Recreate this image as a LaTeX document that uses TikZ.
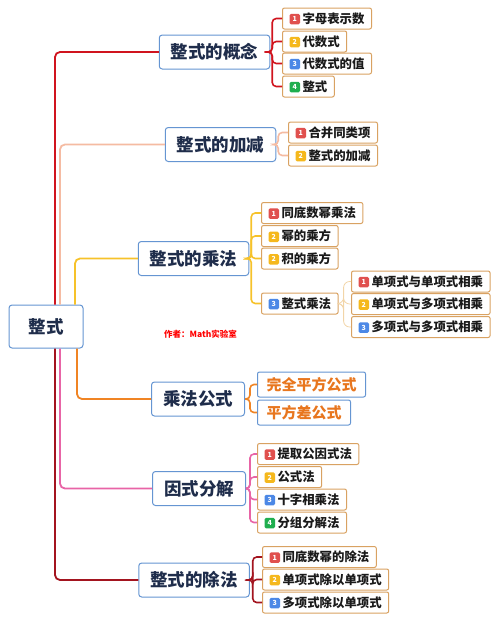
\documentclass[tikz,border=0pt]{standalone}
\usepackage{fontspec}
\setmainfont{Noto Sans CJK SC}
\usetikzlibrary{positioning}

\definecolor{boxline}{HTML}{6595D2}
\definecolor{topictext}{HTML}{1F2D4B}
\definecolor{leafline}{HTML}{D9A262}
\definecolor{leaftext}{HTML}{1A1A1A}
\definecolor{formtext}{HTML}{E8761E}
\definecolor{c1}{HTML}{D0141E}
\definecolor{c2}{HTML}{F5BBA2}
\definecolor{c3}{HTML}{F6C22A}
\definecolor{c4}{HTML}{F08424}
\definecolor{c5}{HTML}{E864A6}
\definecolor{c6}{HTML}{A3141F}
\definecolor{c7}{HTML}{F2D5A8}
\definecolor{b1}{HTML}{E0504E}
\definecolor{b2}{HTML}{F5B81C}
\definecolor{b3}{HTML}{4C88E6}
\definecolor{b4}{HTML}{1FAE4E}

\tikzset{
  rootbox/.style={draw=boxline, line width=1pt, rounded corners=3pt, fill=white,
    minimum width=74pt, minimum height=43pt, text=topictext,
    font=\fontsize{17.5}{20}\selectfont\bfseries},
  topic/.style={draw=boxline, line width=1pt, rounded corners=3pt, fill=white,
    minimum height=34pt, inner xsep=11.5pt, text=topictext,
    font=\fontsize{17.5}{20}\selectfont\bfseries},
  leaf/.style={draw=leafline, line width=1pt, rounded corners=2pt, fill=white,
    anchor=west, minimum height=21pt, inner xsep=7pt, inner ysep=0pt, text=leaftext,
    font=\fontsize{12.4}{14}\selectfont\bfseries},
  formula/.style={draw=boxline, line width=1pt, rounded corners=2pt, fill=white,
    anchor=west, minimum height=25pt, inner xsep=9pt, inner ysep=0pt, text=formtext,
    font=\fontsize{15}{17}\selectfont\bfseries},
  branch/.style={line width=1.8pt, rounded corners=5pt},
  twig/.style={line width=1.6pt, rounded corners=4pt},
  author/.style={text=red, font=\fontsize{8.5}{10}\selectfont\bfseries}
}

\newcommand{\numbadge}[2]{\tikz[baseline=-0.6ex]\node[draw=none, fill=#1, rounded corners=1.5pt,
  inner sep=0pt, minimum width=10.5pt, minimum height=10.5pt, anchor=center, text=white,
  font=\fontsize{7}{7}\selectfont]{#2};\hspace{2.5pt}}

\begin{document}
\begin{tikzpicture}[x=1pt,y=-1pt]
\useasboundingbox (0,0) rectangle (500,622);

% main topics
\node[rootbox] (root) at (46,326.5) {整式};
\node[topic] (gn) at (214.5,52) {整式的概念};
\node[topic] (ga) at (220.5,144.5) {整式的加减};
\node[topic] (gm) at (193.5,258.5) {整式的乘法};
\node[topic] (gf) at (198,399) {乘法公式};
\node[topic] (gy) at (199,488.5) {因式分解};
\node[topic] (gd) at (194,580) {整式的除法};

\node[author] (au) at (200.5,334) {作者：Math实验室};

% branches from the root
\draw[branch,c1] ([xshift=9]root.north) |- (gn.west);
\draw[branch,c2] ([xshift=14]root.north) |- (ga.west);
\draw[branch,c3] ([xshift=29]root.north) |- (gm.west);
\draw[branch,c4] ([xshift=31]root.south) |- (gf.west);
\draw[branch,c5] ([xshift=14]root.south) |- (gy.west);
\draw[branch,c6] ([xshift=9]root.south) |- (gd.west);

% 整式的概念
\node[leaf] (gn1) at (282,18.5) {\numbadge{b1}{1}字母表示数};
\node[leaf] (gn2) at (282,41.5) {\numbadge{b2}{2}代数式};
\node[leaf] (gn3) at (282,63.5) {\numbadge{b3}{3}代数式的值};
\node[leaf] (gn4) at (282,86.5) {\numbadge{b4}{4}整式};
\foreach \i in {1,...,4}
  \draw[twig,c1] (gn.east) -- ++(2,0) |- (gn\i.west);

% 整式的加减
\node[leaf] (ga1) at (288,132.5) {\numbadge{b1}{1}合并同类项};
\node[leaf] (ga2) at (288,155.5) {\numbadge{b2}{2}整式的加减};
\foreach \i in {1,2}
  \draw[twig,c2] (ga.east) -- ++(2,0) |- (ga\i.west);

% 整式的乘法
\node[leaf] (gm1) at (261,213) {\numbadge{b1}{1}同底数幂乘法};
\node[leaf] (gm2) at (261,236) {\numbadge{b2}{2}幂的乘方};
\node[leaf] (gm3) at (261,258.5) {\numbadge{b2}{2}积的乘方};
\node[leaf] (gm4) at (261,303.5) {\numbadge{b3}{3}整式乘法};
\foreach \i in {1,...,4}
  \draw[twig,c3] (gm.east) -- ++(2,0) |- (gm\i.west);

\node[leaf] (gp1) at (351,281.5) {\numbadge{b1}{1}单项式与单项式相乘};
\node[leaf] (gp2) at (351,304) {\numbadge{b2}{2}单项式与多项式相乘};
\node[leaf] (gp3) at (351,327) {\numbadge{b3}{3}多项式与多项式相乘};
\foreach \i in {1,2,3}
  \draw[c7, line width=0.8pt, rounded corners=6pt] (gm4.east) -- ++(5,0) |- (gp\i.west);

% 乘法公式
\node[formula] (gf1) at (257,384.5) {完全平方公式};
\node[formula] (gf2) at (257,412.5) {平方差公式};
\foreach \i in {1,2}
  \draw[twig,c4] (gf.east) -- ++(5,0) |- (gf\i.west);

% 因式分解
\node[leaf] (gy1) at (257,454) {\numbadge{b1}{1}提取公因式法};
\node[leaf] (gy2) at (257,477) {\numbadge{b2}{2}公式法};
\node[leaf] (gy3) at (257,499.5) {\numbadge{b3}{3}十字相乘法};
\node[leaf] (gy4) at (257,522.5) {\numbadge{b4}{4}分组分解法};
\foreach \i in {1,...,4}
  \draw[twig,c5] (gy.east) -- ++(4,0) |- (gy\i.west);

% 整式的除法
\node[leaf] (gd1) at (262,557) {\numbadge{b1}{1}同底数幂的除法};
\node[leaf] (gd2) at (262,579.5) {\numbadge{b2}{2}单项式除以单项式};
\node[leaf] (gd3) at (262,602.5) {\numbadge{b3}{3}多项式除以单项式};
\foreach \i in {1,2,3}
  \draw[twig,c6] (gd.east) -- ++(3,0) |- (gd\i.west);
\end{tikzpicture}
\end{document}
